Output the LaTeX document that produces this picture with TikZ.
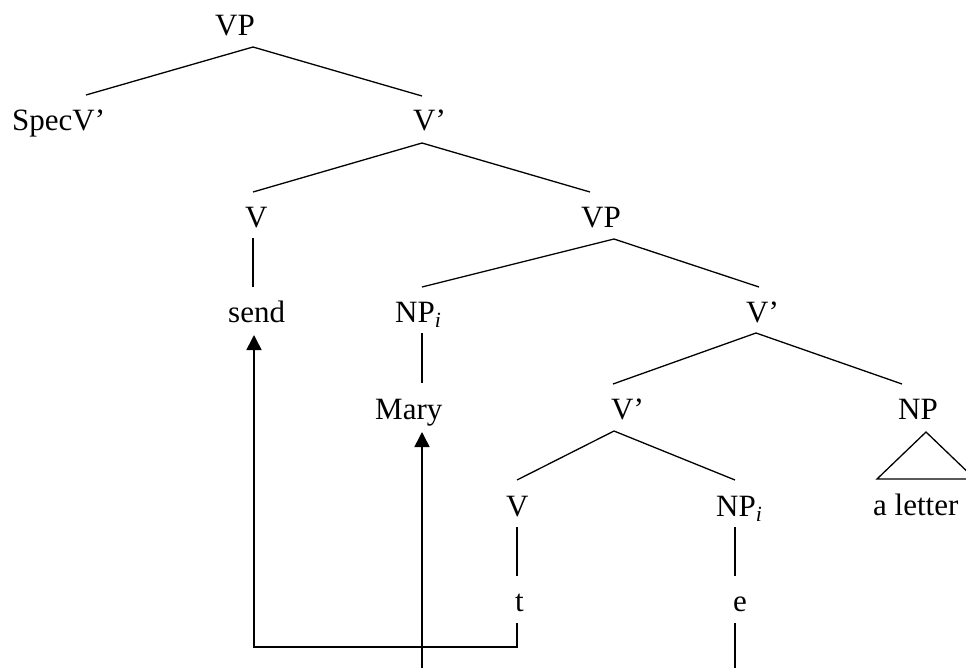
\documentclass[tikz,border=0pt]{standalone}
\usepackage{fontspec}
\setmainfont{Liberation Serif}
\usetikzlibrary{arrows.meta}
\tikzset{
  lbl/.style={inner sep=0pt, anchor=base west, font=\fontsize{31}{37}\selectfont},
  branch/.style={line width=1.3pt},
  move/.style={line width=1.6pt},
  movearrow/.style={move, -{Triangle[width=15pt,length=15pt]}}
}
\begin{document}
\begin{tikzpicture}[x=1pt,y=-1pt]
\useasboundingbox (0,0) rectangle (966,667);
\clip (0,0) rectangle (966,667);
% labels
\node[lbl] (VP0) at (215,35) {VP};
\node[lbl] (SpecV) at (12,130) {SpecV’};
\node[lbl] (Vb1) at (413,130) {V’};
\node[lbl] (V1) at (245,227) {V};
\node[lbl] (VP1) at (581,227) {VP};
\node[lbl] (send) at (228,322) {send};
\node[lbl] (NPi1) at (395,322) {NP\textsubscript{\textit{i}}};
\node[lbl] (Vb2) at (746,322) {V’};
\node[lbl] (Mary) at (375,419) {Mary};
\node[lbl] (Vb3) at (611,419) {V’};
\node[lbl] (NP2) at (898,419) {NP};
\node[lbl] (V2) at (506,516) {V};
\node[lbl] (NPi2) at (716,516) {NP\textsubscript{\textit{i}}};
\node[lbl] (alet) at (873,515) {a letter};
\node[lbl] (t) at (515,611) {t};
\node[lbl] (e) at (733,611) {e};
% attachment points
\coordinate (VP0-b) at (253,47);
\coordinate (SpecV-t) at (86,95);
\coordinate (Vb1-t) at (422,96);
\coordinate (Vb1-b) at (422,143);
\coordinate (V1-t) at (253,192);
\coordinate (VP1-t) at (590,192);
\coordinate (V1-b) at (253,238);
\coordinate (send-t) at (253,287);
\coordinate (send-b) at (254,335);
\coordinate (VP1-b) at (614,239);
\coordinate (NPi1-t) at (422,287);
\coordinate (Vb2-t) at (759,287);
\coordinate (NPi1-b) at (422,333);
\coordinate (Mary-t) at (422,383);
\coordinate (Mary-b) at (422,432);
\coordinate (Vb2-b) at (756,333);
\coordinate (Vb3-t) at (613,384);
\coordinate (NP2-t) at (902,384);
\coordinate (Vb3-b) at (614,431);
\coordinate (V2-t) at (517,480);
\coordinate (NPi2-t) at (735,480);
\coordinate (NP2-b) at (926,432);
\coordinate (alet-l) at (877,479);
\coordinate (alet-r) at (975,479);
\coordinate (V2-b) at (517,527);
\coordinate (t-t) at (517,576);
\coordinate (NPi2-b) at (735,527);
\coordinate (e-t) at (735,576);
\coordinate (t-b) at (517,623);
\coordinate (e-b) at (735,623);
\coordinate (tturn) at (517,647);
\coordinate (sendturn) at (254,647);
\coordinate (eturn) at (735,690);
\coordinate (maryturn) at (422,690);
% branches
\draw[branch] (SpecV-t) -- (VP0-b) -- (Vb1-t);
\draw[branch] (V1-t) -- (Vb1-b) -- (VP1-t);
\draw[branch] (V1-b) -- (send-t);
\draw[branch] (NPi1-t) -- (VP1-b) -- (Vb2-t);
\draw[branch] (NPi1-b) -- (Mary-t);
\draw[branch] (Vb3-t) -- (Vb2-b) -- (NP2-t);
\draw[branch] (V2-t) -- (Vb3-b) -- (NPi2-t);
\draw[branch] (alet-l) -- (NP2-b) -- (alet-r) -- cycle;
\draw[branch] (V2-b) -- (t-t);
\draw[branch] (NPi2-b) -- (e-t);
% movement arrows
\draw[movearrow] (t-b) -- (tturn) -- (sendturn) -- (send-b);
\draw[movearrow] (e-b) -- (eturn) -- (maryturn) -- (Mary-b);
\end{tikzpicture}
\end{document}
